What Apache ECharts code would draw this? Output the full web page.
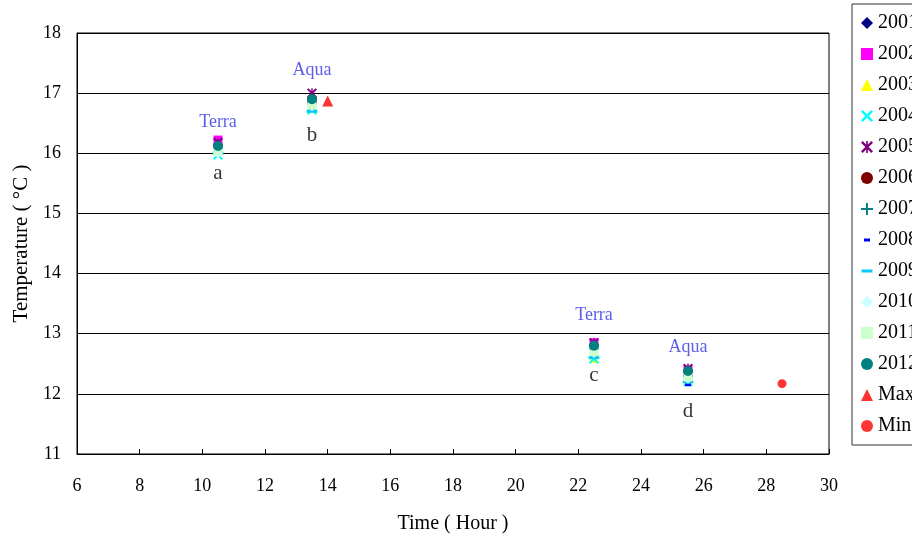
<!DOCTYPE html>
<html><head><meta charset="utf-8">
<script src="https://cdn.jsdelivr.net/npm/echarts@6/dist/echarts.min.js"></script>
<style>html,body{margin:0;padding:0;background:#fff}#c{width:912px;height:534px}</style>
</head><body><div id="c"></div>
<script>
// Observation times (hour)
var times = [10.5, 13.5, 22.5, 25.5];
var years = ['2001','2002','2003','2004','2005','2006','2007','2008','2009','2010','2011','2012'];
// Temperature values per year at each of the four times
var v2001 = [16.15, 16.85, 12.75, 12.30];
var v2002 = [16.22, 16.88, 12.85, 12.40];
var v2003 = [16.05, 16.75, 12.60, 12.25];
var v2004 = [15.97, 16.72, 12.58, 12.20];
var v2005 = [16.18, 17.00, 12.85, 12.42];
var v2006 = [16.12, 16.90, 12.80, 12.38];
var v2007 = [16.10, 16.85, 12.75, 12.30];
var v2008 = [16.05, 16.73, 12.63, 12.15];
var v2009 = [16.00, 16.70, 12.60, 12.20];
var v2010 = [16.00, 16.78, 12.68, 12.25];
var v2011 = [16.05, 16.80, 12.70, 12.28];
var v2012 = [16.12, 16.90, 12.80, 12.38];
var maxPoint = [14.0, 16.87];
var minPoint = [28.5, 12.17];
var satLabels = [[10.5, 16.52, 'Terra'], [13.5, 17.38, 'Aqua'], [22.5, 13.31, 'Terra'], [25.5, 12.78, 'Aqua']];
var letterLabels = [[10.5, 15.67, 'a'], [13.5, 16.30, 'b'], [22.5, 12.30, 'c'], [25.5, 11.70, 'd']];
var xTicks = [6, 8, 10, 12, 14, 16, 18, 20, 22, 24, 26, 28, 30];
var yTicks = [11, 12, 13, 14, 15, 16, 17, 18];

var allVals = [v2001, v2002, v2003, v2004, v2005, v2006, v2007, v2008, v2009, v2010, v2011, v2012];

var P_X = 'path://M0,1.4L1.4,0L5,3.6L8.6,0L10,1.4L6.4,5L10,8.6L8.6,10L5,6.4L1.4,10L0,8.6L3.6,5Z';
var P_PLUS = 'path://M4.2,0H5.8V4.2H10V5.8H5.8V10H4.2V5.8H0V4.2H4.2Z';
var P_STAR = 'path://M0,1.4L1.4,0L4.3,2.9V0H5.7V2.9L8.6,0L10,1.4L6.4,5L10,8.6L8.6,10L5.7,7.1V10H4.3V7.1L1.4,10L0,8.6L3.6,5Z';
var P_DASH_S = 'path://M0,0L0.01,0L0,0.01ZM10,10L9.99,10L10,9.99ZM2.5,3.8H7.5V6.2H2.5Z';
var P_DASH_L = 'path://M0,0L0.01,0L0,0.01ZM10,10L9.99,10L10,9.99ZM0.5,3.8H9.5V6.2H0.5Z';

var styles = [
  {sym:'diamond', size:10, color:'#000080'},
  {sym:'rect', size:9, color:'#ff00ff'},
  {sym:'triangle', size:10, color:'#ffff00'},
  {sym:P_X, size:10, color:'#00ffff'},
  {sym:P_STAR, size:10, color:'#800080'},
  {sym:'circle', size:9, color:'#800000'},
  {sym:P_PLUS, size:10, color:'#008080'},
  {sym:P_DASH_S, size:12, color:'#0000ff'},
  {sym:P_DASH_L, size:12, color:'#00ccff'},
  {sym:'diamond', size:10, color:'#ccffff'},
  {sym:'rect', size:9, color:'#ccffcc'},
  {sym:'circle', size:10, color:'#008080'}
];

var font = '"Liberation Serif", "Times New Roman", serif';
var series = [];
var legendData = [];
years.forEach(function (y, i) {
  var st = styles[i];
  series.push({
    name: y, type: 'scatter', symbol: st.sym, symbolSize: st.size,
    itemStyle: {color: st.color, opacity: 1},
    data: times.map(function (t, k) { return [t, allVals[i][k]]; }),
    z: 2 + i
  });
  legendData.push({name: y, icon: st.sym});
});
series.push({name: 'Max', type: 'scatter', symbol: 'triangle', symbolSize: 11, itemStyle: {color: '#ff0000'}, data: [maxPoint], z: 20});
series.push({name: 'Min', type: 'scatter', symbol: 'circle', symbolSize: 9, itemStyle: {color: '#ff0000'}, data: [minPoint], z: 20});
legendData.push({name: 'Max', icon: 'triangle'});
legendData.push({name: 'Min', icon: 'circle'});

series.push({
  type: 'scatter', symbol: 'circle', symbolSize: 1, silent: true, data: satLabels, z: 30,
  itemStyle: {color: 'rgba(0,0,0,0)'},
  label: {show: true, position: 'inside', formatter: function (p) { return p.value[2]; },
          color: '#3333e6', fontFamily: font, fontSize: 18}
});
series.push({
  type: 'scatter', symbol: 'circle', symbolSize: 1, silent: true, data: letterLabels, z: 30,
  itemStyle: {color: 'rgba(0,0,0,0)'},
  label: {show: true, position: 'inside', formatter: function (p) { return p.value[2]; },
          color: '#000', fontFamily: font, fontSize: 21}
});

var chart = echarts.init(document.getElementById('c'), null, {renderer: 'canvas'});
chart.setOption({
  animation: false,
  backgroundColor: '#fff',
  grid: {left: 77, right: 83, top: 33, bottom: 80, show: true, borderColor: '#000', borderWidth: 1,
         containLabel: false, outerBoundsMode: 'none'},
  xAxis: {
    type: 'value', min: xTicks[0], max: xTicks[xTicks.length - 1], interval: 2,
    name: 'Time ( Hour )', nameLocation: 'middle', nameGap: 60,
    nameTextStyle: {fontFamily: font, fontSize: 20, color: '#000'},
    axisLine: {show: true, lineStyle: {color: '#000', width: 1}},
    axisTick: {show: true, inside: true, length: 5, lineStyle: {color: '#000'}},
    axisLabel: {fontFamily: font, fontSize: 18, color: '#000', margin: 23},
    splitLine: {show: false}
  },
  yAxis: {
    type: 'value', min: yTicks[0], max: yTicks[yTicks.length - 1], interval: 1,
    name: 'Temperature ( \u00B0C )', nameLocation: 'middle', nameGap: 44,
    nameTextStyle: {fontFamily: font, fontSize: 21, color: '#000'},
    axisLine: {show: true, lineStyle: {color: '#000', width: 1}},
    axisTick: {show: false},
    axisLabel: {fontFamily: font, fontSize: 18, color: '#000', margin: 16},
    splitLine: {show: true, lineStyle: {color: '#000', width: 1}}
  },
  legend: {
    orient: 'vertical', left: 852, top: 4,
    padding: [9, 60, 9, 9],
    itemWidth: 12, itemHeight: 12, itemGap: 11,
    borderColor: '#333', borderWidth: 1,
    selectedMode: false,
    textStyle: {fontFamily: font, fontSize: 20, color: '#000', lineHeight: 20},
    data: legendData
  },
  series: series
});
</script></body></html>
